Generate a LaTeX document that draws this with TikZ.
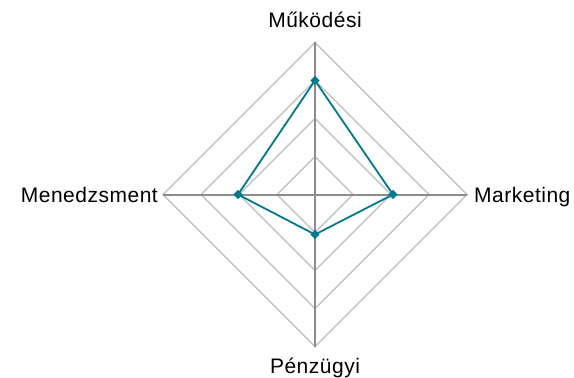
\documentclass[tikz,border=0pt]{standalone}
\usepackage{fontspec}
\setmainfont{Liberation Sans}[LetterSpace=2.4]
\usetikzlibrary{shapes.geometric}

\definecolor{gridgray}{RGB}{200,200,200}
\definecolor{axisgray}{RGB}{140,140,140}
\definecolor{datateal}{RGB}{0,122,138}

\tikzset{
  ring/.style={draw=gridgray, line width=1.7pt},
  axisline/.style={draw=axisgray, line width=2pt},
  dataline/.style={draw=datateal, line width=1.8pt, line join=round},
  datamark/.style={diamond, fill=datateal, inner sep=0pt, minimum size=9.5pt},
  axislabel/.style={font=\fontsize{21}{25}\selectfont, inner sep=0pt}
}

\begin{document}
\begin{tikzpicture}[x=1pt,y=1pt]
 \useasboundingbox (-315,-183.5) rectangle (259,194.5);
 % axis ends
 \coordinate (O) at (0,0);
 \coordinate (N) at (0,152);
 \coordinate (E) at (152,0);
 \coordinate (S) at (0,-152);
 \coordinate (W) at (-152,0);
 % rings
 \draw[ring] (0,38) -- (38,0) -- (0,-38) -- (-38,0) -- cycle;
 \draw[ring] (0,76) -- (76,0) -- (0,-76) -- (-76,0) -- cycle;
 \draw[ring] (0,114) -- (114,0) -- (0,-114) -- (-114,0) -- cycle;
 \draw[ring] (N) -- (E) -- (S) -- (W) -- cycle;
 % axes
 \draw[axisline] (N) -- (S);
 \draw[axisline] (W) -- (E);
 % labels
 \node[axislabel, anchor=base] (mukodesi) at (0,166.5) {Működési};
 \node[axislabel, anchor=base east] (menedzsment) at (-157,-7.5) {Menedzsment};
 \node[axislabel, anchor=base west] (marketing) at (159,-7.5) {Marketing};
 \node[axislabel, anchor=base] (penzugyi) at (0,-178.5) {Pénzügyi};
 % data
 \coordinate (pN) at (0,114);
 \coordinate (pE) at (78,0);
 \coordinate (pS) at (0,-40);
 \coordinate (pW) at (-77,0);
 \draw[dataline] (pN) -- (pE) -- (pS) -- (pW) -- cycle;
 \node[datamark] (dN) at (pN) {};
 \node[datamark] (dE) at (pE) {};
 \node[datamark] (dS) at (pS) {};
 \node[datamark] (dW) at (pW) {};
\end{tikzpicture}
\end{document}
